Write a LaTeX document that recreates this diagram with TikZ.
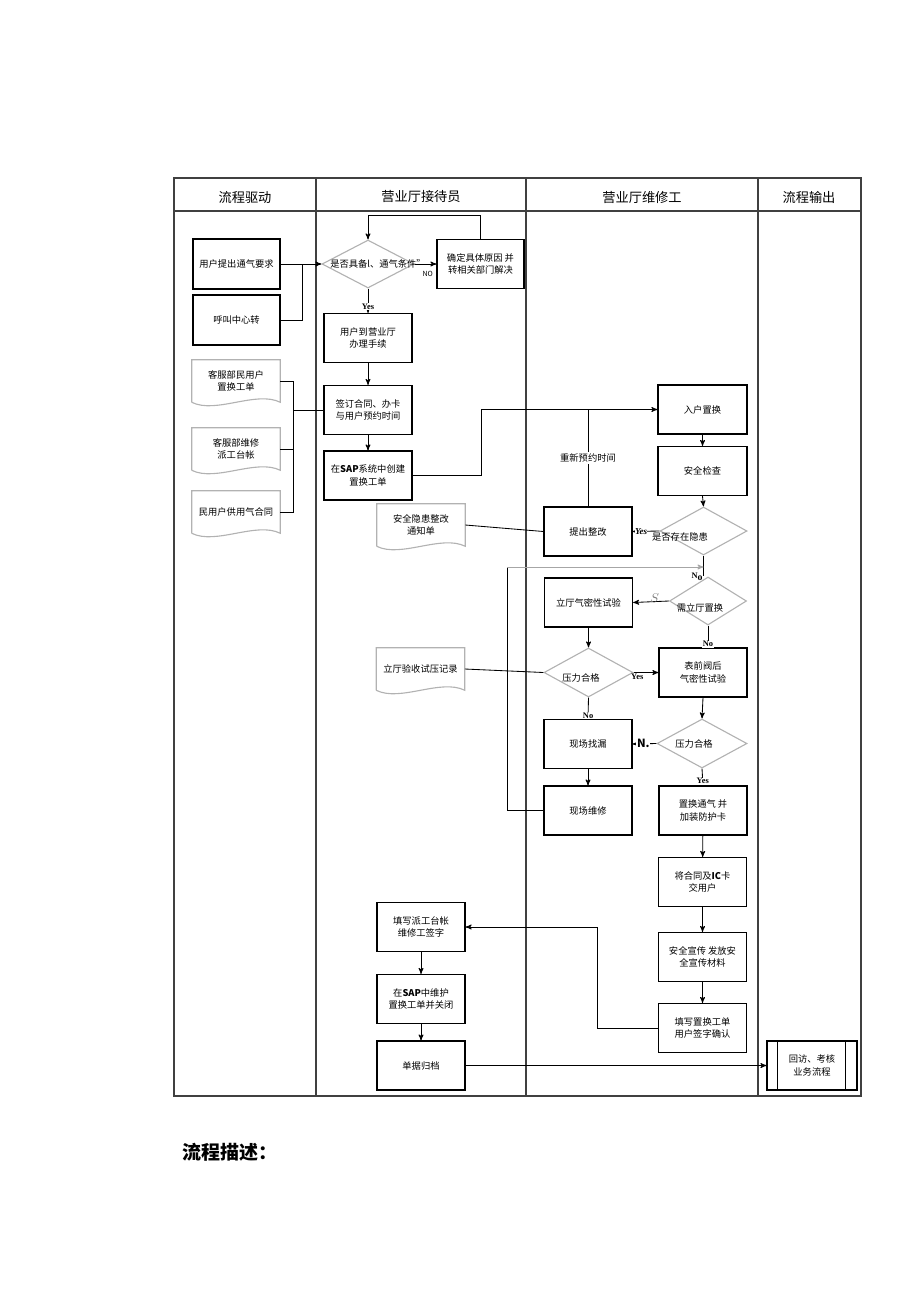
\documentclass[tikz,border=0pt]{standalone}
\usepackage{fontspec}
\setmainfont{Noto Sans CJK SC}
\newfontfamily\ltn{Liberation Serif}
\usetikzlibrary{arrows}
\usetikzlibrary{shapes.geometric}
\usetikzlibrary{calc}
\usetikzlibrary{positioning}
\tikzset{
    box/.style={
        draw,
        line width=0.8pt,
        minimum width=2.2cm,
        minimum height=1.225cm,
        align=center,
        inner sep=1pt,
        font=\fontsize{6.6}{9}\selectfont},
    docnode/.style={
        minimum width=2.2cm,
        minimum height=1.05cm,
        align=center,
        inner sep=1pt,
        font=\fontsize{6.6}{9}\selectfont},
    docline/.style={draw=gray!60, line width=0.8pt},
    decision/.style={
        diamond,
        draw=gray!60,
        line width=0.8pt,
        inner sep=0pt},
    dtext/.style={inner sep=0pt, font=\fontsize{6.6}{9}\selectfont},
    tag/.style={inner sep=0.5pt, fill=white, font=\ltn\bfseries\fontsize{6}{7}\selectfont},
    hdr/.style={font=\fontsize{9.4}{11}\selectfont},
    frame/.style={draw=black!75, line width=1pt},
    line/.style={draw, line width=0.6pt},
    every edge/.style={
        draw,
        ->,>=stealth',
        line width=0.6pt}}

\begin{document}
\begin{tikzpicture}[x=0.025cm, y=-0.025cm, >=stealth']
        \useasboundingbox (0,0) rectangle (920,1302);

        % swimlane table
        \draw[frame] (174,178) rectangle (861,1096);
        \draw[frame] (174,211) -- (861,211);
        \foreach \x in {316,526,758}
            \draw[frame] (\x,178) -- (\x,1096);
        \node[hdr] (hDrive) at (245,197) {流程驱动};
        \node[hdr] (hDesk) at (421,197) {营业厅接待员};
        \node[hdr] (hFix) at (642,197) {营业厅维修工};
        \node[hdr] (hOut) at (809,197) {流程输出};

        % lane 1
        \node[box, minimum width=2.175cm, minimum height=1.25cm] (req) at (236.5,264) {用户提出通气要求};
        \node[box, minimum width=2.175cm, minimum height=1.25cm] (call) at (236.5,320) {呼叫中心转};
        \node[docnode] (docA) at (236,381) {客服部民用户\\置换工单};
        \node[docnode] (docB) at (236,449) {客服部维修\\派工台帐};
        \node[docnode] (docC) at (236,512) {民用户供用气合同};

        % lane 2
        \node[decision, minimum width=2.3cm, minimum height=1.2cm] (chk) at (368,264) {};
        \node[dtext] (chkT) at (378,264) {是否具备l、通气条件”};
        \node[box, minimum width=2.175cm] (cause) at (480.5,264) {确定具体原因 并\\转相关部门解决};
        \node[box] (visit) at (368,338) {用户到营业厅\\办理手续};
        \node[box] (sign) at (368,410) {签订合同、办卡\\与用户预约时间};
        \node[box] (sap) at (368,475.5) {在\textbf{SAP}系统中创建\\置换工单};
        \node[docnode] (notice) at (421,525) {安全隐患整改\\通知单};
        \node[docnode] (record) at (420.5,669) {立厅验收试压记录};
        \node[box] (fill) at (421,927) {填写派工台帐\\维修工签字};
        \node[box] (sapc) at (421,999) {在\textbf{SAP}中维护\\置换工单并关闭};
        \node[box] (archive) at (421,1065.5) {单据归档};

        % lane 3
        \node[box, minimum width=2.225cm] (home) at (702.5,409.5) {入户置换};
        \node[box, minimum width=2.225cm] (safe) at (702.5,471) {安全检查};
        \node[decision, minimum width=2.175cm, minimum height=1.2cm] (risk) at (703.5,531) {};
        \node[dtext] (riskT) at (680,537) {是否存在隐患};
        \node[box] (fix1) at (588,531.5) {提出整改};
        \node[decision, minimum width=1.925cm, minimum height=1.2cm] (need) at (708,601) {};
        \node[dtext] (needT) at (700,608) {需立厅置换};
        \node[box] (stand) at (588.5,602.5) {立厅气密性试验};
        \node[decision, minimum width=2.225cm, minimum height=1.225cm] (press1) at (588.5,672.5) {};
        \node[dtext] (press1T) at (581,678) {压力合格};
        \node[box] (meter) at (703,672.5) {表前阀后\\气密性试验};
        \node[decision, minimum width=2.25cm, minimum height=1.225cm] (press2) at (702,743.5) {};
        \node[dtext] (press2T) at (694,744) {压力合格};
        \node[box] (leak) at (588,744) {现场找漏};
        \node[box] (repair) at (588,810.5) {现场维修};
        \node[box] (gas) at (703,810.5) {置换通气 并\\加装防护卡};
        \node[box] (card) at (702.5,882) {将合同及\textbf{IC}卡\\交用户};
        \node[box] (promo) at (702.5,957) {安全宣传 发放安\\全宣传材料};
        \node[box] (form) at (702.5,1028) {填写置换工单\\用户签字确认};

        % lane 4
        \node[box, minimum width=2.25cm] (review) at (812,1065.5) {回访、考核\\业务流程};
        \draw[line] ($(review.north west)+(11,0)$) -- ($(review.south west)+(11,0)$);
        \draw[line] ($(review.north east)+(-12,0)$) -- ($(review.south east)+(-12,0)$);

        % document outlines
        \foreach \d in {docA,docB,docC,notice,record}
            \draw[docline] (\d.south west) -- (\d.north west) -- (\d.north east) -- (\d.south east)
                .. controls +(-0.6cm,0.3cm) and +(0.6cm,-0.3cm) .. (\d.south west);

        % connectors
        \draw (req.east) edge (chk.west);
        \draw[line] (call.east) -| (302,264);
        \draw[line] (cause.north) |- (368,215);
        \draw (368,215) edge (chk.north);
        \draw (chk.east) edge node[below=5pt, inner sep=0pt, pos=0.6, font=\fontsize{5}{6}\selectfont] (noA) {NO} (cause.west);
        \draw (chk.south) edge node[tag, pos=0.75] (yesA) {Yes} (visit.north);
        \draw (visit) edge (sign);
        \draw (sign) edge (sap);

        \draw[line] (docA.east) -| (293,512) -- (docC.east);
        \draw[line] (docB.east) -- (293,449);
        \draw[line] (293,410) -- (sign.west);

        \draw[line] (sap.east) -| (481,409.5);
        \draw (481,409.5) edge (home.west);
        \draw[line] (fix1.north) -- node[fill=white, inner sep=1pt, font=\fontsize{6.6}{9}\selectfont, pos=0.5] (again) {重新预约时间} (fix1.north |- home.west);
        \draw[line] (notice.east) -- (fix1.west);

        \draw (home) edge (safe);
        \draw (safe.south) edge (risk.north);
        \draw (risk.west) edge node[inner sep=0pt, fill=white, font=\ltn\itshape\bfseries\fontsize{6.5}{7}\selectfont, pos=0.68] (yesB) {Yes} (fix1.east);
        \draw[line] (risk.south) -- (risk.south |- need.north);
        \node[inner sep=0pt, font=\ltn\bfseries\fontsize{6}{7}\selectfont] (noB) at (697,577) {N\raisebox{-1.5pt}{\scriptsize o}};

        \coordinate (m1) at (703.5,567);
        \draw[line] (repair.west) -- ++(-36,0) coordinate (m0) -- (m0 |- m1);
        \draw[gray!70] (m0 |- m1) edge (m1);

        \draw (need.west) edge node[inner sep=0pt, text=gray, font=\ltn\itshape\fontsize{9}{10}\selectfont, above=-1pt, pos=0.4] (sB) {$S$} (stand.east);
        \draw (need.south) edge node[tag, pos=0.85] (noC) {No} (need.south |- meter.north);
        \draw (stand.south) edge (press1.north);
        \draw[line] (record.east) -- (press1.west);
        \draw (press1.east) edge node[inner sep=0pt, font=\ltn\bfseries\fontsize{6}{7}\selectfont, below=1pt, pos=0.15] (yesC) {Yes} (meter.west);
        \draw (press1.south) edge node[tag, pos=0.85] (noD) {No} (leak.north);
        \draw (meter.south) edge (press2.north);
        \draw (press2.west) edge node[inner sep=0.5pt, fill=white, font=\bfseries\fontsize{8}{9}\selectfont, pos=0.55] (noE) {N.} (leak.east);
        \draw (press2.south) edge node[tag, pos=0.75] (yesD) {Yes} (gas.north);
        \draw (leak) edge (repair);
        \draw (gas) edge (card);
        \draw (card) edge (promo);
        \draw (promo) edge (form);

        \draw[line] (form.west) -- ++(-61,0) |- (530,927);
        \draw (530,927) edge (fill.east);
        \draw (fill) edge (sapc);
        \draw (sapc) edge (archive);
        \draw (archive.east) edge (review.west);

        \node[anchor=west, font=\bfseries\fontsize{13.5}{16}\selectfont] (desc) at (178,1152) {流程描述：};
    \end{tikzpicture}
\end{document}
